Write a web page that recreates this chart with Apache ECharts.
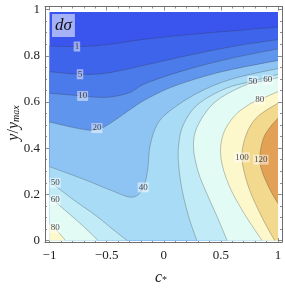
<!DOCTYPE html>
<html><head><meta charset="utf-8">
<script src="https://cdn.jsdelivr.net/npm/echarts@6/dist/echarts.min.js"></script>
<style>html,body{margin:0;padding:0;background:#fff}#c{width:285px;height:290px}</style>
</head><body><div id="c"></div>
<script>
// contour levels and band colours (band i lies between LEVELS[i-1] and LEVELS[i])
const LEVELS = [1, 5, 10, 20, 40, 50, 60, 80, 100, 120];
const BAND_COLORS = ['#3a55ee', '#3f64ec', '#4b7aea', '#5f95ec', '#8ec4f4', '#a8dbf5',
                     '#c1ebf6', '#e2fbf5', '#fdf8cb', '#f3d98e', '#e2a154'];

// contour lines: [c*, y/ymax]
const C1   = [[-1,0.842],[-0.76,0.84],[-0.5,0.848],[-0.16,0.872],[0.3,0.895],[0.7,0.912],[1,0.925]];
const C5   = [[-1,0.731],[-0.73,0.72],[-0.5,0.725],[-0.16,0.76],[0.2,0.8],[0.6,0.84],[1,0.87]];
const C10  = [[-1,0.638],[-0.71,0.626],[-0.5,0.62],[-0.3,0.64],[-0.16,0.68],[0.2,0.74],[0.6,0.79],[1,0.83]];
const C20  = [[-1,0.513],[-0.8,0.49],[-0.65,0.478],[-0.55,0.485],[-0.43,0.52],[-0.3,0.565],[-0.16,0.61],[0.1,0.67],[0.5,0.73],[1,0.78]];
const C40  = [[-1,0.32],[-0.7,0.265],[-0.45,0.215],[-0.3,0.188],[-0.22,0.2],[-0.17,0.24],[-0.14,0.31],[-0.12,0.41],[-0.06,0.5],[0.05,0.56],[0.3,0.64],[0.6,0.7],[1,0.745]];
const C50L = [[-1,0.255],[-0.95,0.237],[-0.8,0.18],[-0.6,0.11],[-0.45,0.05],[-0.32,0]];
const C50R = [[0.29,0],[0.22,0.1],[0.16,0.22],[0.13,0.33],[0.13,0.41],[0.17,0.5],[0.3,0.59],[0.55,0.66],[0.78,0.69],[1,0.72]];
const C60L = [[-1,0.19],[-0.85,0.125],[-0.7,0.06],[-0.575,0]];
const C60R = [[0.555,0],[0.47,0.1],[0.38,0.2],[0.3,0.3],[0.26,0.41],[0.3,0.5],[0.45,0.6],[0.7,0.67],[0.91,0.695],[1,0.705]];
const C80L = [[-1,0.075],[-0.93,0.04],[-0.86,0]];
const C80R = [[0.86,0],[0.7,0.12],[0.57,0.24],[0.5,0.36],[0.52,0.46],[0.62,0.54],[0.75,0.59],[0.84,0.61],[1,0.645]];
const C100 = [[0.97,0],[0.86,0.1],[0.75,0.22],[0.69,0.33],[0.69,0.4],[0.74,0.48],[0.83,0.54],[1,0.595]];
const C120 = [[1,0.16],[0.93,0.22],[0.86,0.3],[0.84,0.36],[0.87,0.44],[0.93,0.49],[1,0.53]];

// contour labels: [c*, y/ymax, text]
const LABELS = [[-0.76,0.84,'1'],[-0.733,0.72,'5'],[-0.71,0.626,'10'],[-0.585,0.487,'20'],
  [-0.18,0.23,'40'],[-0.95,0.25,'50'],[-0.95,0.175,'60'],[-0.95,0.055,'80'],
  [0.78,0.69,'50'],[0.91,0.695,'60'],[0.84,0.61,'80'],[0.685,0.36,'100'],[0.85,0.35,'120']];

// axis ticks
const X_MAJOR = [-1,-0.5,0,0.5,1];
const X_MINOR = [-0.9,-0.8,-0.7,-0.6,-0.4,-0.3,-0.2,-0.1,0.1,0.2,0.3,0.4,0.6,0.7,0.8,0.9];
const Y_MAJOR = [0,0.2,0.4,0.6,0.8,1];
const Y_MINOR = [0.05,0.1,0.15,0.25,0.3,0.35,0.45,0.5,0.55,0.65,0.7,0.75,0.85,0.9,0.95];

// plotted domain
const XMIN = -1, XMAX = 1, YMIN = 0, YMAX = 0.99;

// filled regions {f >= level}: contour piece + closing corners of the domain
const BR = [XMAX, YMIN], BL = [XMIN, YMIN];
const REGIONS = [
  {band: 0, pts: [[XMIN,YMIN],[XMAX,YMIN],[XMAX,YMAX],[XMIN,YMAX]], close: [], straight: true},
  {band: 1, pts: C1, close: [BR, BL]},
  {band: 2, pts: C5, close: [BR, BL]},
  {band: 3, pts: C10, close: [BR, BL]},
  {band: 4, pts: C20, close: [BR, BL]},
  {band: 5, pts: C40, close: [BR, BL]},
  {band: 6, pts: C50L, close: [BL]},
  {band: 6, pts: C50R, close: [BR]},
  {band: 7, pts: C60L, close: [BL]},
  {band: 7, pts: C60R, close: [BR]},
  {band: 8, pts: C80L, close: [BL]},
  {band: 8, pts: C80R, close: [BR]},
  {band: 9, pts: C100, close: [BR]},
  {band: 10, pts: C120, close: []}
];
const LINES = [C1, C5, C10, C20, C40, C50L, C50R, C60L, C60R, C80L, C80R, C100, C120];

function smoothD(p) {
  let d = 'M' + p[0][0] + ' ' + p[0][1];
  for (let i = 0; i < p.length - 1; i++) {
    const p0 = p[i - 1] || p[i], p1 = p[i], p2 = p[i + 1], p3 = p[i + 2] || p[i + 1];
    const c1x = p1[0] + (p2[0] - p0[0]) / 6, c1y = p1[1] + (p2[1] - p0[1]) / 6;
    const c2x = p2[0] - (p3[0] - p1[0]) / 6, c2y = p2[1] - (p3[1] - p1[1]) / 6;
    d += ' C' + c1x + ' ' + c1y + ' ' + c2x + ' ' + c2y + ' ' + p2[0] + ' ' + p2[1];
  }
  return d;
}
function straightD(p) {
  return 'M' + p.map(q => q[0] + ' ' + q[1]).join(' L');
}

const SERIF = '"Liberation Serif","DejaVu Serif",serif';
const FRAME = '#6e6e6e';
const fmt = v => String(v).replace('-', '\u2212');

const chart = echarts.init(document.getElementById('c'), null, {renderer: 'canvas'});

function xAx(pos, vals, len, labels, line) {
  return {type: 'value', position: pos, min: -1.0394, max: 1.035, gridIndex: 0,
    axisLine: {show: line, onZero: false, lineStyle: {color: FRAME, width: 1}},
    axisTick: {show: true, inside: true, length: len, customValues: vals, lineStyle: {color: FRAME, width: 0.8}},
    axisLabel: {show: labels, customValues: vals, formatter: fmt, margin: 7,
      fontFamily: SERIF, fontSize: 13, color: '#222'},
    splitLine: {show: false}};
}
function yAx(pos, vals, len, labels, line) {
  return {type: 'value', position: pos, min: -0.0065, max: 1.0134, gridIndex: 0,
    axisLine: {show: line, onZero: false, lineStyle: {color: FRAME, width: 1}},
    axisTick: {show: true, inside: true, length: len, customValues: vals, lineStyle: {color: FRAME, width: 0.8}},
    axisLabel: {show: labels, customValues: vals, formatter: fmt, margin: 5,
      fontFamily: SERIF, fontSize: 13, color: '#222'},
    splitLine: {show: false}};
}

chart.setOption({
  animation: false,
  grid: {left: 45, top: 6.5, right: 3, bottom: 48},
  xAxis: [xAx('bottom', X_MAJOR, 4, true, true), xAx('bottom', X_MINOR, 2, false, false),
          xAx('top', X_MAJOR, 4, false, true), xAx('top', X_MINOR, 2, false, false)],
  yAxis: [yAx('left', Y_MAJOR, 4, true, true), yAx('left', Y_MINOR, 2, false, false),
          yAx('right', Y_MAJOR, 4, false, true), yAx('right', Y_MINOR, 2, false, false)],
  series: [
    {type: 'custom', coordinateSystem: 'cartesian2d', xAxisIndex: 0, yAxisIndex: 0, clip: true, z: 1,
      data: REGIONS.map((r, i) => [0, 0.5, i]),
      renderItem: function (params, api) {
        const r = REGIONS[api.value(2)];
        const px = r.pts.map(q => api.coord(q));
        let d = r.straight ? straightD(px) : smoothD(px);
        r.close.forEach(q => { const c = api.coord(q); d += ' L' + c[0] + ' ' + c[1]; });
        d += ' Z';
        return {type: 'path', shape: {pathData: d}, style: {fill: BAND_COLORS[r.band], stroke: null}};
      }},
    {type: 'custom', coordinateSystem: 'cartesian2d', xAxisIndex: 0, yAxisIndex: 0, clip: true, z: 2,
      data: LINES.map((l, i) => [0, 0.5, i]),
      renderItem: function (params, api) {
        const px = LINES[api.value(2)].map(q => api.coord(q));
        return {type: 'path', shape: {pathData: smoothD(px)},
          style: {fill: null, stroke: 'rgba(50,50,50,0.42)', lineWidth: 0.7}};
      }},
    {type: 'scatter', xAxisIndex: 0, yAxisIndex: 0, z: 3, symbolSize: 0, silent: true,
      data: LABELS,
      label: {show: true, position: 'inside', formatter: p => p.value[2],
        fontFamily: SERIF, fontSize: 9, color: '#222',
        backgroundColor: 'rgba(255,255,255,0.62)', padding: [1, 1, 0, 1]}}
  ],
  graphic: [
    {type: 'text', left: 52, top: 14, z: 10,
      style: {text: 'd\u03c3', font: 'italic 17px ' + SERIF, fill: '#111',
        backgroundColor: 'rgba(255,255,255,0.55)', padding: [3, 3, 3, 3]}},
    {type: 'text', x: 13, y: 123, rotation: Math.PI / 2, z: 10,
      style: {text: '{a|y}{s|/}{a|y}{b|max}', align: 'center', verticalAlign: 'middle',
        rich: {a: {font: 'italic 16px ' + SERIF, fill: '#222', verticalAlign: 'bottom', lineHeight: 17},
               s: {font: '16px ' + SERIF, fill: '#222', verticalAlign: 'bottom', lineHeight: 17},
               b: {font: 'italic 10px ' + SERIF, fill: '#222', verticalAlign: 'bottom', lineHeight: 17, padding: [5, 0, 0, 0]}}}},
    {type: 'text', x: 161, y: 277, z: 10,
      style: {text: '{a|c}{b|*}', align: 'center', verticalAlign: 'middle',
        rich: {a: {font: 'italic 16px ' + SERIF, fill: '#222', verticalAlign: 'bottom', lineHeight: 17},
               b: {font: '10px ' + SERIF, fill: '#222', verticalAlign: 'bottom', lineHeight: 17, padding: [5, 0, 0, 0]}}}}
  ]
});
</script></body></html>
